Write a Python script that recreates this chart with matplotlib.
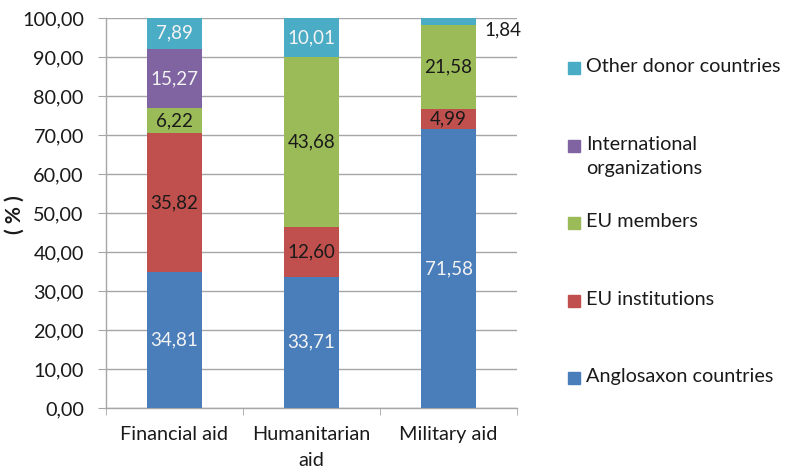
import matplotlib
matplotlib.use("Agg")
import matplotlib.pyplot as plt
from matplotlib.patches import Rectangle
import numpy as np

plt.rcParams['font.family'] = ['Lato', 'DejaVu Sans']

categories = ["Financial aid", "Humanitarian\naid", "Military aid"]
series_names = ["Anglosaxon countries", "EU institutions", "EU members",
                "International\norganizations", "Other donor countries"]
anglosaxon = [34.81, 33.71, 71.58]
eu_institutions = [35.82, 12.60, 4.99]
eu_members = [6.22, 43.68, 21.58]
intl_orgs = [15.27, 0.0, 0.0]
other_donors = [7.89, 10.01, 1.84]
y_ticks = [0, 10, 20, 30, 40, 50, 60, 70, 80, 90, 100]

series = [anglosaxon, eu_institutions, eu_members, intl_orgs, other_donors]
colors = ["#4A7EBB", "#C0504D", "#9BBB59", "#8064A2", "#4BACC6"]
label_colors = ["#F4F4F4", "#1A1A1A", "#1A1A1A", "#F4F4F4", "#F4F4F4"]

W, H = 792, 473
fig = plt.figure(figsize=(W / 100, H / 100), dpi=100)
ax = fig.add_axes([106 / W, 1 - 408 / H, 411 / W, 390 / H])

x = np.arange(len(categories))
bottom = np.zeros(len(categories))
width = 0.4
containers = []
for vals, col, name in zip(series, colors, series_names):
    vals = np.array(vals)
    bars = ax.bar(x, vals, width, bottom=bottom, color=col, label=name, zorder=3)
    containers.append((bars, vals, bottom.copy()))
    bottom += vals

def fmt(v):
    return f"{v:.2f}".replace(".", ",")

fs = 13.5
for (bars, vals, bot), lc in zip(containers, label_colors):
    for i, (b, v) in enumerate(zip(bars, vals)):
        if v <= 0:
            continue
        if v < 3:
            # thin segment: label placed beside the bar
            ax.annotate(fmt(v), (b.get_x() + b.get_width(), bot[i] + v / 2),
                        xytext=(6, 0), textcoords="offset points",
                        ha="left", va="top", fontsize=fs, color="#1A1A1A", zorder=4)
        else:
            ax.text(b.get_x() + b.get_width() / 2, bot[i] + v / 2, fmt(v),
                    ha="center", va="center", fontsize=fs, color=lc, zorder=4)

ax.set_xlim(-0.5, len(categories) - 0.5)
ax.set_ylim(0, 100)
ax.set_yticks(y_ticks)
ax.set_yticklabels([fmt(t) for t in y_ticks], fontsize=fs + 0.8, color="#1A1A1A")
ax.yaxis.grid(True, color="#A6A6A6", linewidth=1.0, zorder=0)
ax.set_axisbelow(True)

ax.set_xticks(x)
ax.set_xticklabels(categories, fontsize=fs + 0.8, color="#1A1A1A", linespacing=1.65)
ax.set_xticks(np.arange(len(categories) + 1) - 0.5, minor=True)
ax.tick_params(axis="x", which="major", length=0, pad=13)
ax.tick_params(axis="x", which="minor", length=5, color="#A6A6A6")
ax.tick_params(axis="y", length=6, color="#A6A6A6", pad=10)

for s in ["top", "right"]:
    ax.spines[s].set_visible(False)
for s in ["left", "bottom"]:
    ax.spines[s].set_color("#A6A6A6")
    ax.spines[s].set_linewidth(1.0)

fig.text(15 / W, 1 - 215 / H, "( % )", rotation=90, ha="center", va="center",
         fontsize=fs + 1.5, fontweight="bold", color="#1A1A1A")

# legend, top entry first, square aligned with the first text line
legend_rows = [68, 146, 223, 301, 378]
for name, col, yc in zip(series_names[::-1], colors[::-1], legend_rows):
    fig.patches.append(Rectangle((568 / W, 1 - (yc + 6) / H), 12 / W, 12 / H,
                                 transform=fig.transFigure, color=col))
    fig.text(586 / W, 1 - (yc - 10) / H, name, ha="left", va="top",
             fontsize=fs + 0.8, color="#1A1A1A", linespacing=1.5)

fig.savefig("out.png", dpi=100)
